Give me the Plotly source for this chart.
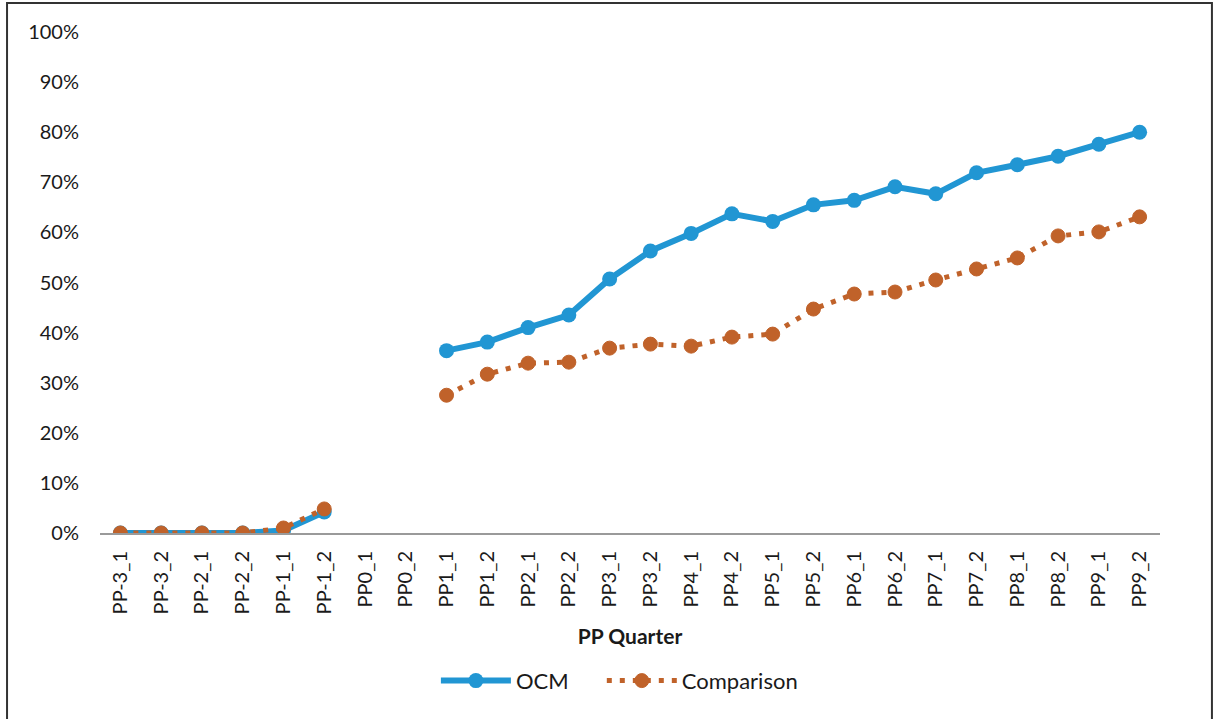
import plotly.graph_objects as go

quarters = ["PP-3_1", "PP-3_2", "PP-2_1", "PP-2_2", "PP-1_1", "PP-1_2",
            "PP0_1", "PP0_2", "PP1_1", "PP1_2", "PP2_1", "PP2_2",
            "PP3_1", "PP3_2", "PP4_1", "PP4_2", "PP5_1", "PP5_2",
            "PP6_1", "PP6_2", "PP7_1", "PP7_2", "PP8_1", "PP8_2",
            "PP9_1", "PP9_2"]

ocm = [0.0, 0.0, 0.0, 0.0, 0.005, 0.042,
       None, None, 0.364, 0.381, 0.410, 0.435,
       0.507, 0.563, 0.598, 0.637, 0.622, 0.655,
       0.664, 0.691, 0.677, 0.719, 0.735, 0.752,
       0.776, 0.800]

comparison = [0.0, 0.0, 0.0, 0.0, 0.010, 0.048,
              None, None, 0.275, 0.317, 0.339, 0.341,
              0.369, 0.377, 0.373, 0.391, 0.397, 0.447,
              0.477, 0.481, 0.505, 0.527, 0.549, 0.593,
              0.601, 0.631]

y_ticks = [i / 10 for i in range(11)]

BLUE = "#2196D3"
ORANGE = "#C0622A"
FONT = "Lato"
TEXT = "#1a1a1a"
PAD = "\u00a0" * 5  # extra room after the first legend entry

fig = go.Figure()
fig.add_trace(go.Scatter(
    x=quarters, y=ocm, name="OCM" + PAD, mode="lines+markers",
    line=dict(color=BLUE, width=6),
    marker=dict(color=BLUE, size=15, symbol="circle"),
))
fig.add_trace(go.Scatter(
    x=quarters, y=comparison, name="Comparison", mode="lines+markers",
    line=dict(color=ORANGE, width=5, dash="5px,8px"),
    marker=dict(color=ORANGE, size=14, symbol="circle",
                line=dict(color=ORANGE, width=1)),
))

fig.update_layout(
    width=1214, height=719,
    margin=dict(l=100, r=54, t=32, b=186),
    paper_bgcolor="white", plot_bgcolor="white",
    font=dict(family=FONT, size=19, color=TEXT),
    showlegend=True,
    legend=dict(orientation="h", x=0.49, y=-0.295,
                xanchor="center", yanchor="middle",
                font=dict(family=FONT, size=22, color=TEXT),
                itemwidth=70, tracegroupgap=0),
    xaxis=dict(
        type="category", range=[-0.5, 25.5],
        tickangle=-90, showgrid=False, ticks="",
        showline=True, linecolor="#9a9a9a", linewidth=2,
        tickfont=dict(family=FONT, size=20, color=TEXT),
        ticklabelstandoff=8,
        title=dict(text="<b>PP Quarter</b>", standoff=16,
                   font=dict(family=FONT, size=21, color=TEXT)),
    ),
    yaxis=dict(
        range=[0, 1], tickvals=y_ticks, tickformat=".0%",
        showgrid=False, zeroline=False, showline=False, ticks="",
        ticklabelstandoff=20,
        tickfont=dict(family=FONT, size=20, color=TEXT),
    ),
    shapes=[dict(type="rect", xref="paper", yref="paper",
                 x0=-0.0877, x1=1.049, y0=-0.45, y1=1.058,
                 line=dict(color="#333333", width=2), layer="below")],
)

fig.write_html("out.html")
